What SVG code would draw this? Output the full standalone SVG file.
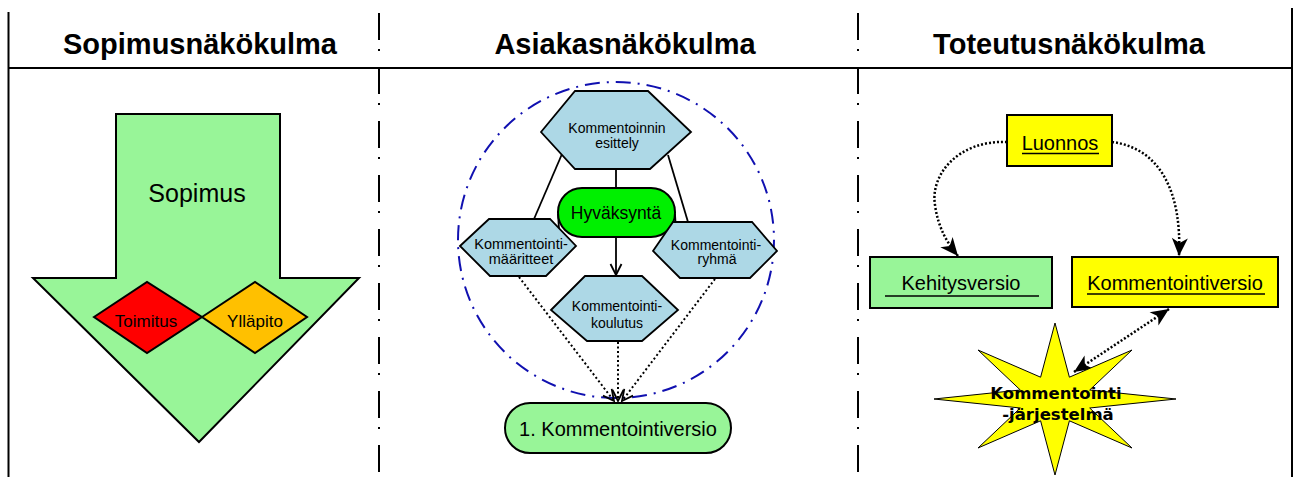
<svg xmlns="http://www.w3.org/2000/svg" width="1299" height="477" viewBox="0 0 1299 477">
  <defs>
    <style>
      .frame { stroke: #000; stroke-width: 2; fill: none; }
      .divider { stroke: #000; stroke-width: 2; fill: none; stroke-dasharray: 27 9 2 16; stroke-dashoffset: -3; }
      .head { font-family: "Liberation Sans", Arial, sans-serif; font-weight: bold; font-size: 29px; text-anchor: middle; fill: #000; }
      .lbl { font-family: "Liberation Sans", Arial, sans-serif; text-anchor: middle; fill: #000; }
      .shape { stroke: #000; stroke-width: 2; }
      .hex { fill: #ADD8E6; stroke: #000; stroke-width: 1.8; }
      .green { fill: #98F598; }
      .yellow { fill: #FFFF00; }
      .solid { stroke: #000; stroke-width: 1.8; fill: none; }
      .dots { stroke: #000; stroke-width: 2; fill: none; stroke-dasharray: 2 2.5; }
      .dots-r { stroke: #000; stroke-width: 2.5; fill: none; stroke-dasharray: 2 2; }
      .ul { stroke: #000; stroke-width: 1.5; }
    </style>
    <marker id="vee" markerUnits="userSpaceOnUse" markerWidth="14" markerHeight="14" refX="11" refY="5.5" orient="auto" overflow="visible">
      <path d="M0,0 L11,5.5 L0,11" fill="none" stroke="#000" stroke-width="1.8"/>
    </marker>
    <marker id="dart" markerUnits="userSpaceOnUse" markerWidth="20" markerHeight="18" refX="18" refY="8" orient="auto-start-reverse" overflow="visible">
      <path d="M0,0 L18,8 L0,16 L5,8 Z" fill="#000"/>
    </marker>
  </defs>

  <!-- outer frame and column headers -->
  <g id="frame">
    <line class="frame" x1="8.5" y1="12" x2="8.5" y2="477"/>
    <line class="frame" x1="1292" y1="8" x2="1292" y2="477"/>
    <line class="frame" x1="8" y1="68" x2="1293" y2="68"/>
    <line class="divider" x1="379" y1="10" x2="379" y2="477"/>
    <line class="divider" x1="858" y1="10" x2="858" y2="477"/>
    <text class="head" x="200" y="54">Sopimusnäkökulma</text>
    <text class="head" x="625" y="54">Asiakasnäkökulma</text>
    <text class="head" x="1069" y="54">Toteutusnäkökulma</text>
  </g>

  <!-- left column: contract arrow -->
  <g id="sopimus">
    <polygon class="shape green" points="116,114 280,114 280,278 359,278 199,442 33,278 116,278"/>
    <text class="lbl" x="197" y="202" font-size="25">Sopimus</text>
  </g>
  <g id="toimitus">
    <polygon class="shape" fill="#FF0000" points="94,317 147,282 202,317 147,353"/>
    <text class="lbl" x="146" y="327" font-size="17">Toimitus</text>
  </g>
  <g id="yllapito">
    <polygon class="shape" fill="#FFC000" points="202,317 255,282 307,317 255,353"/>
    <text class="lbl" x="255" y="327" font-size="17">Ylläpito</text>
  </g>

  <!-- middle column -->
  <g id="ympyra">
    <circle cx="616" cy="240" r="158" fill="none" stroke="#1010B0" stroke-width="2" stroke-dasharray="15 7 2 7"/>
  </g>

  <g id="connectors">
    <!-- solid links around the approval node -->
    <line class="solid" x1="616" y1="169" x2="616" y2="188"/>
    <line class="solid" x1="562" y1="154" x2="534" y2="219"/>
    <line class="solid" x1="668" y1="155" x2="688" y2="222"/>
    <line class="solid" x1="558" y1="214" x2="559" y2="229"/>
    <line class="solid" x1="675" y1="214" x2="676" y2="230"/>
    <line class="solid" x1="616" y1="237" x2="616" y2="275" marker-end="url(#vee)"/>
    <!-- dotted flows into the first comment version -->
    <line class="dots" x1="519" y1="277" x2="614" y2="401" marker-end="url(#vee)"/>
    <line class="dots" x1="618" y1="342" x2="618" y2="401" marker-end="url(#vee)"/>
    <line class="dots" x1="715" y1="279" x2="622" y2="401" marker-end="url(#vee)"/>
    <!-- right column flows -->
    <path class="dots-r" d="M1007,142 C958,140 930,175 935,205 C938,228 948,244 958,256" marker-end="url(#dart)"/>
    <path class="dots-r" d="M1112,142 C1160,148 1182,192 1179,256" marker-end="url(#dart)"/>
    <line class="dots-r" x1="1169" y1="309" x2="1074" y2="372" marker-start="url(#dart)" marker-end="url(#dart)"/>
  </g>

  <g id="esittely">
    <polygon class="hex" points="541,132 575,91 648,91 691,132 650,169 575,169"/>
    <text class="lbl" x="617" y="133" font-size="14">Kommentoinnin</text>
    <text class="lbl" x="617" y="148" font-size="14">esittely</text>
  </g>
  <g id="hyvaksynta">
    <rect x="558" y="188" width="117" height="49" rx="24" ry="24" fill="#00F000" stroke="#000" stroke-width="2"/>
    <text class="lbl" x="616" y="219" font-size="17.5">Hyväksyntä</text>
  </g>
  <g id="maaritteet">
    <polygon class="hex" points="460,246 489,219 550,219 576,246 546,276 490,276"/>
    <text class="lbl" x="521" y="249" font-size="14.5">Kommentointi-</text>
    <text class="lbl" x="521" y="264" font-size="14.5">määritteet</text>
  </g>
  <g id="ryhma">
    <polygon class="hex" points="653,251 673,222 752,222 777,251 750,278 680,278"/>
    <text class="lbl" x="716" y="250" font-size="14">Kommentointi-</text>
    <text class="lbl" x="717" y="264" font-size="14">ryhmä</text>
  </g>
  <g id="koulutus">
    <polygon class="hex" points="551,310 585,276 642,276 678,310 642,341 587,341"/>
    <text class="lbl" x="617" y="311" font-size="14">Kommentointi-</text>
    <text class="lbl" x="617" y="328" font-size="14">koulutus</text>
  </g>
  <g id="versio1">
    <rect class="shape green" x="505" y="403" width="226" height="50" rx="25" ry="25"/>
    <text class="lbl" x="618" y="436" font-size="20">1. Kommentointiversio</text>
  </g>

  <!-- right column -->
  <g id="luonnos">
    <rect class="shape yellow" x="1007" y="115" width="105" height="51"/>
    <text class="lbl" x="1060" y="150" font-size="20">Luonnos</text>
    <line class="ul" x1="1022" y1="153.5" x2="1099" y2="153.5"/>
  </g>
  <g id="kehitysversio">
    <rect class="shape green" x="870" y="257" width="182" height="51"/>
    <text class="lbl" x="961" y="290" font-size="20">Kehitysversio</text>
    <line class="ul" x1="885" y1="296" x2="1039" y2="296"/>
  </g>
  <g id="kommentointiversio">
    <rect class="shape yellow" x="1072" y="257" width="206" height="50"/>
    <text class="lbl" x="1175" y="290" font-size="20">Kommentointiversio</text>
    <line class="ul" x1="1087" y1="294" x2="1265" y2="294"/>
  </g>
  <g id="jarjestelma">
    <polygon fill="#FFFF00" stroke="#000" stroke-width="1" points="1055,323 1069.4,377.2 1132,350 1089.7,390 1176,399 1089.7,408 1132,448 1069.4,420.8 1055,475 1040.6,420.8 978,448 1020.3,408 934,399 1020.3,390 978,350 1040.6,377.2"/>
    <text x="1056" y="399" font-family="'DejaVu Sans', Verdana, sans-serif" font-weight="bold" font-size="16.5" text-anchor="middle">Kommentointi</text>
    <text x="1058" y="420" font-family="'DejaVu Sans', Verdana, sans-serif" font-weight="bold" font-size="16.5" text-anchor="middle">-järjestelmä</text>
  </g>
</svg>
